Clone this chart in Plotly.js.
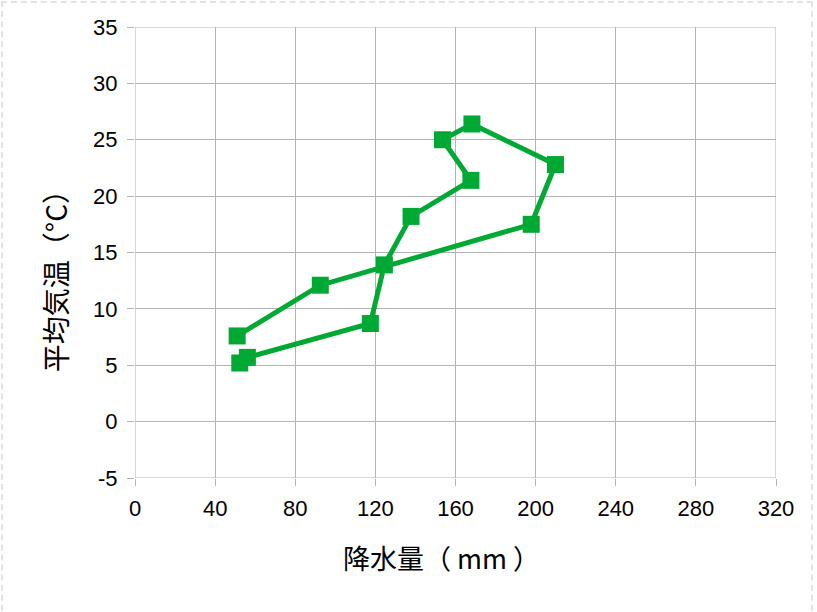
<!DOCTYPE html>
<html>
<head>
<meta charset="utf-8">
<script src="https://cdn.plot.ly/plotly-3.0.1.min.js"></script>
<style>
body{margin:0;padding:0;background:#fff;}
#wrap{position:relative;width:817px;height:612px;overflow:hidden;}
#frame{position:absolute;left:1px;top:1px;width:812px;height:640px;border:2px dashed #e3e3e3;box-sizing:border-box;pointer-events:none;}
#chart{position:absolute;left:0;top:0;width:817px;height:612px;}
</style>
</head>
<body>
<div id="wrap">
<div id="chart"></div>
<div id="frame"></div>
</div>
<script>
const months = ["1月","2月","3月","4月","5月","6月","7月","8月","9月","10月","11月","12月"];
const precipitation = [52.3, 56.1, 117.5, 124.5, 137.8, 167.7, 153.5, 168.2, 209.9, 197.8, 92.5, 51.0];
const temperature = [5.2, 5.7, 8.7, 13.9, 18.2, 21.4, 25.0, 26.4, 22.8, 17.5, 12.1, 7.6];
const xTickVals = [0, 40, 80, 120, 160, 200, 240, 280, 320];
const xTickText = ["0", "40", "80", "120", "160", "200", "240", "280", "320"];
const yTickVals = [-5, 0, 5, 10, 15, 20, 25, 30, 35];
const yTickText = ["-5", "0", "5", "10", "15", "20", "25", "30", "35"];
const xTitle = "降水量（ mm ）";
const yTitle = "平均気温（°C）";

const font = "Liberation Sans, Arial, sans-serif";
const cjk = "Noto Sans CJK JP, sans-serif";
const trace = {
  x: precipitation,
  y: temperature,
  text: months,
  type: "scatter",
  mode: "lines+markers",
  line: {color: "#00a933", width: 5},
  marker: {symbol: "square", size: 17, color: "#00a933"},
  hoverinfo: "text+x+y"
};
const layout = {
  width: 817, height: 612,
  margin: {l: 135, r: 41, t: 27, b: 134},
  paper_bgcolor: "#ffffff",
  plot_bgcolor: "#ffffff",
  showlegend: false,
  font: {family: font, size: 22, color: "#000"},
  xaxis: {
    range: [0, 320], tickmode: "array", tickvals: xTickVals, ticktext: xTickText,
    showgrid: true, gridcolor: "#b3b3b3", gridwidth: 1,
    zeroline: false, showline: false,
    ticks: "outside", ticklen: 7, tickcolor: "#b3b3b3",
    ticklabelstandoff: 4,
    tickfont: {family: font, size: 22, color: "#000"}
  },
  yaxis: {
    range: [-5, 35], tickmode: "array", tickvals: yTickVals, ticktext: yTickText,
    showgrid: true, gridcolor: "#b3b3b3", gridwidth: 1,
    zeroline: false, showline: false,
    ticks: "outside", ticklen: 7, tickcolor: "#b3b3b3",
    ticklabelstandoff: 5,
    tickfont: {family: font, size: 22, color: "#000"}
  },
  annotations: [
    {text: xTitle, xref: "paper", yref: "paper", x: 0.478, y: 0, xanchor: "center", yanchor: "middle",
     yshift: -79, showarrow: false, font: {family: cjk, size: 27, color: "#000"}},
    {text: yTitle, xref: "paper", yref: "paper", x: 0, y: 0.452, xanchor: "center", yanchor: "middle",
     xshift: -80, textangle: -90, showarrow: false, font: {family: cjk, size: 28, color: "#000"}}
  ],
  shapes: [
    {type: "line", xref: "x", yref: "paper", x0: 0, x1: 0, y0: 0, y1: 1, line: {color: "#b3b3b3", width: 1}, layer: "below"},
    {type: "line", xref: "x", yref: "paper", x0: 320, x1: 320, y0: 0, y1: 1, line: {color: "#b3b3b3", width: 1}, layer: "below"},
    {type: "line", xref: "paper", yref: "y", x0: 0, x1: 1, y0: -5, y1: -5, line: {color: "#b3b3b3", width: 1}, layer: "below"},
    {type: "line", xref: "paper", yref: "y", x0: 0, x1: 1, y0: 35, y1: 35, line: {color: "#b3b3b3", width: 1}, layer: "below"}
  ]
};
Plotly.newPlot("chart", [trace], layout, {displayModeBar: false, staticPlot: true});
</script>
</body>
</html>
